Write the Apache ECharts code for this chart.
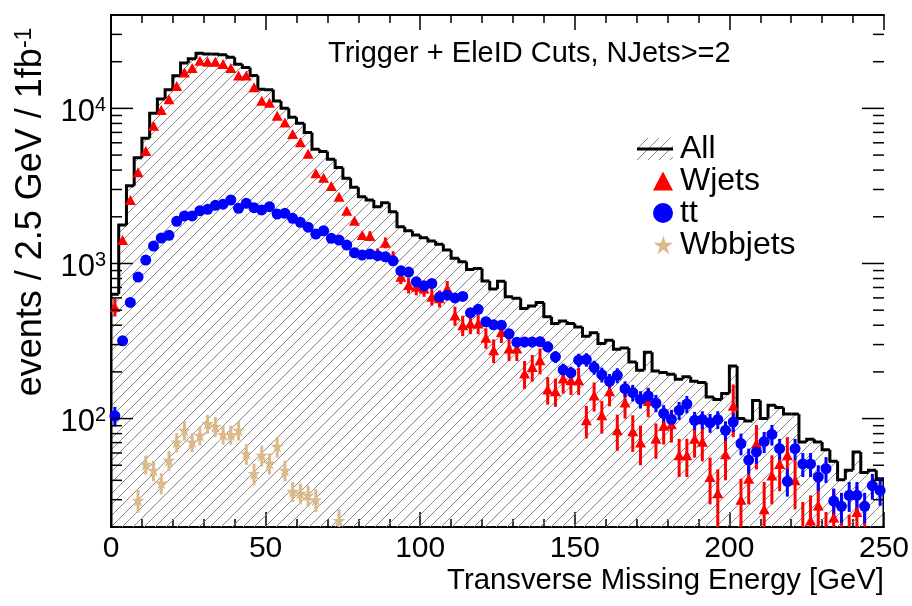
<!DOCTYPE html>
<html><head><meta charset="utf-8">
<script src="https://cdn.jsdelivr.net/npm/echarts@6/dist/echarts.min.js"></script>
<style>html,body{margin:0;padding:0;background:#fff}#c{width:912px;height:606px}</style>
</head><body><div id="c"></div>
<script>
const BIN_WIDTH = 2.5;
const xTickLabels = [0, 50, 100, 150, 200, 250];
const yMajorTicks = [100, 1000, 10000];
const yMinorTicks = [20,30,40,50,60,70,80,90,200,300,400,500,600,700,800,900,2000,3000,4000,5000,6000,7000,8000,9000,20000,30000];
const legendNames = ['All', 'Wjets', 'tt', 'Wbbjets'];

const allEvents = [634,1770,3175,4810,6430,9310,11510,13180,16220,19580,
 20890,22710,22380,22380,22130,21380,19280,18330,16290,13300,
 13180,11170,10020,8770,8020,7000,5460,5265,4700,4150,
 3540,3097,2697,2566,2324,2466,2157,1726,1626,1525,
 1466,1396,1329,1222,1080,1026,916,929,770,685,
 769,610,596,513,531,561,453,410,425,410,
 390,340,357,305,320,280,285,232,205,268,
 203,198,193,179,186,174,171,138,133,145,
 218,100,96.5,131,100,122,118,107,107,70.6,
 73.5,70.6,63,53,40.4,46.4,61,45,46.4,41];

const wjets = [525,1416,2566,3873,5320,7740,9770,11460,13960,17020,
 18190,20280,19950,19950,19360,18190,16290,16290,13700,11220,
 10890,8950,8100,6840,6050,5100,3820,3575,3160,2697,
 2190,1887,1525,1503,1150,1362,1100,821,726,708,
 690,610,596,690,462,400,410,410,332,276,
 362,283,283,195,215,238,154,150,181,177,
 177,97.5,141,105,150,84,127,83,70,130,
 74,90,92,58,58,74,71,42,33,59,
 121,30,41,69,26,43,51,58,40,19,
 22,27.5,15,23,13,14,25,18,10,7];
const wjetsErr = [70,null,null,null,null,null,null,null,null,null,
 null,null,null,null,null,null,null,null,null,null,
 null,null,null,null,null,null,null,null,null,null,
 null,null,null,110,100,110,100,85,85,85,
 80,75,75,80,65,60,60,60,50,48,
 55,48,48,40,42,45,31,31,36,35,
 35,23,30,25,30,22,27,22,20,28,
 19,22,22,16,16,18,18,14,14,19,
 45,11,13,22,13,15,17,18,14,10,
 10,12,10,12,10,10,12,10,8,7];

const ttbar = [104,317,561,817,1052,1295,1459,1518,1870,2025,
 2025,2190,2235,2373,2410,2566,2270,2445,2290,2213,
 2324,2085,2105,1954,1841,1713,1549,1626,1452,1416,
 1315,1173,1133,1150,1122,1105,1041,897,880,762,
 718,743,610,625,600,613,481,506,421,402,
 400,352,311,312,312,313,290,250,206,197,
 238,240,214,192,174,190,156,147,133,140,
 126,108,99,113,124,97.5,98.5,94,98.5,84,
 95,69,54,61,71,79,64,39.4,64,51,
 51,42,47.5,29.4,27.2,32,32,27.2,37,34.4];
const ttbarErr = [15,null,null,null,null,null,null,null,null,null,
 null,null,null,null,null,null,null,null,null,null,
 null,null,null,null,null,null,null,null,null,null,
 null,null,null,null,null,null,null,null,null,null,
 null,null,null,null,null,35,30,31,28,27,
 27,26,24,24,24,24,23,22,20,19,
 24,24,22,21,20,21,18,18,17,17,
 16,14,14,15,16,13,13,13,13,12,
 13,11,10,10,11,12,10,8,10,9,
 9,8,9,6,6,7,7,6,7,7];

const wbbjets = [null,null,null,29.7,50.7,46.4,38.4,53.8,70.6,84.2,
 70.6,78,92.8,89.2,78.9,78.9,84.2,59.4,44.2,58,
 51.6,66.2,46.4,34,33,32,30,null,null,22];
const wbbjetsErr = [null,null,null,5,7,7,6,8,10,12,
 10,11,13,13,11,11,12,9,7,9,
 8,10,7,5,5,5,5,null,null,4];

const Y_MIN = 20, Y_MAX = 40000;
const FONT = 'Liberation Sans, Arial, Helvetica, sans-serif';
const HATCH_COLOR = '#8a8a8a';
const RED = '#ff0000', BLUE = '#0000ff', TAN = '#dcb98a';

const PS = 11;
function drawHatch(g, w, h) {
  g.strokeStyle = HATCH_COLOR; g.lineWidth = 1;
  g.beginPath();
  for (let k = -h; k < w + h; k += PS) { g.moveTo(k - 1, h + 1); g.lineTo(k + h + 1, -1); }
  g.stroke();
}
const pat = document.createElement('canvas');
pat.width = PS; pat.height = PS;
(function(){
  const g = pat.getContext('2d');
  g.strokeStyle = HATCH_COLOR; g.lineWidth = 1;
  g.beginPath();
  g.moveTo(-1, PS + 1); g.lineTo(PS + 1, -1);
  g.moveTo(-1, 1); g.lineTo(1, -1);
  g.moveTo(PS - 1, PS + 1); g.lineTo(PS + 1, PS - 1);
  g.stroke();
})();
const hatch = {image: pat, repeat: 'repeat'};

const iconCanvas = document.createElement('canvas');
iconCanvas.width = 36; iconCanvas.height = 22;
(function(){
  const g = iconCanvas.getContext('2d');
  drawHatch(g, 36, 22);
  g.strokeStyle = '#000'; g.lineWidth = 3;
  g.beginPath(); g.moveTo(0, 11); g.lineTo(36, 11); g.stroke();
})();
const ALL_ICON = 'image://' + iconCanvas.toDataURL();

const center = i => (i + 0.5) * BIN_WIDTH;

const histData = allEvents.map((v, i) => [i * BIN_WIDTH, (i + 1) * BIN_WIDTH, v, i === 0 ? Y_MIN : allEvents[i - 1]]);
function pts(arr) { const out = []; arr.forEach((v, i) => { if (v != null) out.push([center(i), v]); }); return out; }
function errs(arr, err) { const out = []; arr.forEach((v, i) => { if (v != null && err[i] != null) out.push([center(i), v, err[i]]); }); return out; }

const STAR = 'path://M50,0 L61.2,34.5 L97.6,34.5 L68.2,55.9 L79.4,90.5 L50,69.1 L20.6,90.5 L31.8,55.9 L2.4,34.5 L38.8,34.5 Z';
const LEG_TRI = 'path://M0,11 L0,11.01 L0.01,11 Z M26,1 L36,20 L16,20 Z';
const LEG_CIRC = 'path://M0,11 L0,11.01 L0.01,11 Z M36,11 A10,10 0 1 1 16,11 A10,10 0 1 1 36,11 Z';
const LEG_STAR = 'path://M0,11 L0,11.01 L0.01,11 Z M26,1 L28.24,7.9 L35.52,7.9 L29.64,12.18 L31.88,19.1 L26,14.82 L20.12,19.1 L22.36,12.18 L16.48,7.9 L23.76,7.9 Z';

function errRender(color, lw) {
  return function(params, api) {
    const x = api.value(0), v = api.value(1), e = api.value(2);
    const lo = Math.max(v - e, 1);
    const p1 = api.coord([x, v + e]), p0 = api.coord([x, lo]);
    return {type: 'line', shape: {x1: p1[0], y1: p1[1], x2: p0[0], y2: p0[1]}, style: {stroke: color, lineWidth: lw}, silent: true};
  };
}

const chart = echarts.init(document.getElementById('c'));
const axisFrame = {show: true, lineStyle: {color: '#000', width: 2}};
const xCommon = {
  type: 'value', min: 0, max: 250, interval: 50,
  axisLine: axisFrame,
  axisTick: {show: true, inside: true, length: 15, lineStyle: {color: '#000', width: 1.5}},
  minorTick: {show: true, splitNumber: 5, length: 8, lineStyle: {color: '#000', width: 1.5}},
  splitLine: {show: false}, minorSplitLine: {show: false}
};
chart.setOption({
  animation: false,
  backgroundColor: '#fff',
  textStyle: {fontFamily: FONT},
  title: {
    text: 'Trigger + EleID Cuts, NJets>=2', left: 323, top: 34,
    textStyle: {fontSize: 29, fontWeight: 'normal', color: '#000', fontFamily: FONT}
  },
  grid: {left: 111, right: 26, top: 15, bottom: 79, containLabel: false},
  legend: {
    orient: 'vertical', left: 632, top: 128, itemGap: 0, itemWidth: 36, itemHeight: 22,
    textStyle: {fontSize: 32, lineHeight: 28.5, color: '#000', fontFamily: FONT, padding: [0, 0, 0, 2]},
    data: [
      {name: 'All', icon: ALL_ICON},
      {name: 'Wjets', icon: LEG_TRI, itemStyle: {color: RED}},
      {name: 'tt', icon: LEG_CIRC, itemStyle: {color: BLUE}},
      {name: 'Wbbjets', icon: LEG_STAR, itemStyle: {color: TAN}}
    ]
  },
  xAxis: [
    Object.assign({}, xCommon, {
      position: 'bottom',
      axisLabel: {show: true, fontSize: 30, color: '#000', margin: 7, fontFamily: FONT,
        formatter: v => xTickLabels.indexOf(v) >= 0 ? String(v) : ''},
      name: 'Transverse Missing Energy [GeV]', nameLocation: 'end', nameGap: 0,
      nameTextStyle: {fontSize: 29.3, color: '#000', align: 'right', verticalAlign: 'top', padding: [39, 0, 0, 0], fontFamily: FONT}
    }),
    Object.assign({}, xCommon, {position: 'top', axisLabel: {show: false}})
  ],
  yAxis: [
    {
      type: 'log', logBase: 10, min: Y_MIN, max: Y_MAX, position: 'left',
      axisLine: axisFrame, axisTick: {show: false}, splitLine: {show: false},
      axisLabel: {
        show: true, margin: 5, color: '#000', padding: [8, 0, 0, 0],
        formatter: v => {
          const e = Math.round(Math.log10(v));
          return (Math.abs(v - Math.pow(10, e)) < 1e-6 * v) ? '{b|10}{s|' + e + '}' : '';
        },
        rich: {
          b: {fontSize: 31, fontFamily: FONT, color: '#000', lineHeight: 34},
          s: {fontSize: 20, fontFamily: FONT, color: '#000', verticalAlign: 'top', lineHeight: 20}
        }
      },
      name: 'events / 2.5 GeV / 1fb{s|-1}', nameLocation: 'middle', nameGap: 42, nameRotate: 90,
      nameTextStyle: {fontSize: 36, color: '#000', fontFamily: FONT, padding: [0, 0, 0, 118],
        rich: {s: {fontSize: 23, fontFamily: FONT, color: '#000', verticalAlign: 'top', lineHeight: 23}}}
    },
    {
      type: 'log', logBase: 10, min: Y_MIN, max: Y_MAX, position: 'right',
      axisLine: axisFrame, axisTick: {show: false}, axisLabel: {show: false}, splitLine: {show: false}
    }
  ],
  series: [
    {
      name: 'All', type: 'custom', xAxisIndex: 0, yAxisIndex: 0, clip: true, z: 1,
      itemStyle: {color: '#000'},
      encode: {x: [0, 1], y: 2},
      data: histData,
      renderItem: function(params, api) {
        const lo = api.value(0), hi = api.value(1), v = api.value(2), pv = api.value(3);
        const cs = params.coordSys;
        const yb = cs.y + cs.height;
        const p1 = api.coord([lo, v]), p2 = api.coord([hi, v]), pp = api.coord([lo, pv]);
        const line = [[p1[0], Math.min(pp[1], yb)], [p1[0], p1[1]], [p2[0], p2[1]]];
        if (params.dataIndex === allEvents.length - 1) line.push([p2[0], yb]);
        return {type: 'group', children: [
          {type: 'rect', shape: {x: p1[0], y: p1[1], width: p2[0] - p1[0] + 0.5, height: yb - p1[1]}, style: {fill: hatch}, silent: true},
          {type: 'polyline', shape: {points: line}, style: {stroke: '#000', lineWidth: 3, fill: null, lineJoin: 'miter'}, z2: 5}
        ]};
      }
    },
    {
      name: 'ticksY', type: 'custom', clip: false, silent: true, z: 6,
      data: yMajorTicks.map(t => [t, 22]).concat(yMinorTicks.map(t => [t, 11])),
      encode: {y: 0},
      renderItem: function(params, api) {
        const t = api.value(0), len = api.value(1);
        const cs = params.coordSys;
        const y = api.coord([0, t])[1];
        return {type: 'group', children: [
          {type: 'line', shape: {x1: cs.x, y1: y, x2: cs.x + len, y2: y}, style: {stroke: '#000', lineWidth: 1.5}},
          {type: 'line', shape: {x1: cs.x + cs.width - len, y1: y, x2: cs.x + cs.width, y2: y}, style: {stroke: '#000', lineWidth: 1.5}}
        ]};
      }
    },
    {name: 'WjetsErr', type: 'custom', clip: true, z: 3, data: errs(wjets, wjetsErr), encode: {x: 0, y: 1}, renderItem: errRender(RED, 3)},
    {name: 'ttErr', type: 'custom', clip: true, z: 3, data: errs(ttbar, ttbarErr), encode: {x: 0, y: 1}, renderItem: errRender(BLUE, 3)},
    {name: 'WbbErr', type: 'custom', clip: true, z: 3, data: errs(wbbjets, wbbjetsErr), encode: {x: 0, y: 1}, renderItem: errRender(TAN, 3)},
    {name: 'Wjets', type: 'scatter', clip: true, z: 4, symbol: 'triangle', symbolSize: [11, 10],
      itemStyle: {color: RED, opacity: 1}, data: pts(wjets)},
    {name: 'tt', type: 'scatter', clip: true, z: 4, symbol: 'circle', symbolSize: 11,
      itemStyle: {color: BLUE, opacity: 1}, data: pts(ttbar)},
    {name: 'Wbbjets', type: 'scatter', clip: true, z: 4, symbol: STAR, symbolSize: 13,
      itemStyle: {color: TAN, opacity: 1}, data: pts(wbbjets)}
  ]
});
</script></body></html>
